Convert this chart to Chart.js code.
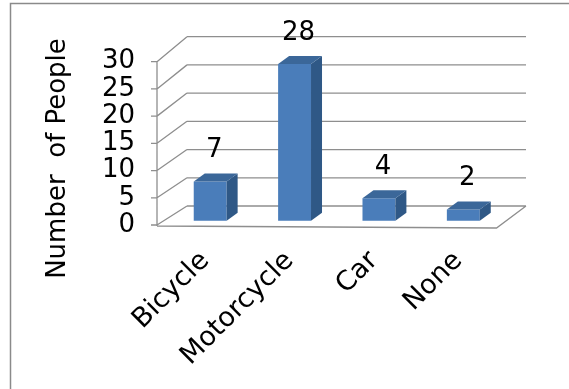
<!DOCTYPE html>
<html>
<head>
<meta charset="utf-8">
<script src="https://cdn.jsdelivr.net/npm/chart.js@4/dist/chart.umd.min.js"></script>
<style>
  html, body { margin: 0; padding: 0; background: #fff; }
</style>
</head>
<body>
<canvas id="grafico" width="569" height="389"></canvas>
<script>
// Dados do gráfico
const categories = ["Bicycle", "Motorcycle", "Car", "None"];
const people = [7, 28, 4, 2];
const yTicks = [0, 5, 10, 15, 20, 25, 30];
const yTitle = "Number  of People";

const FONT = "'DejaVu Sans', Verdana, sans-serif";
const GRID = "#8e8e8e";

// profundidade das barras 3D
const BAR_DX = 11;
const BAR_DY = -8;

function backY(yScale, v) {
  // parede do fundo: um pouco mais alta que o eixo da frente
  const base = yScale.getPixelForValue(0);
  return base - 19 - (base - yScale.getPixelForValue(v)) * 1.037;
}

const wallPlugin = {
  id: "wall",
  beforeDraw(chart) {
    const ctx = chart.ctx;
    ctx.save();
    ctx.strokeStyle = "#8a8a8a";
    ctx.lineWidth = 1.5;
    ctx.strokeRect(10.5, 3.5, 640, 440);
    ctx.restore();
  },
  beforeDatasetsDraw(chart) {
    const ctx = chart.ctx;
    const y = chart.scales.y;
    const area = chart.chartArea;
    const frontX = area.left - 11;
    const backL = frontX + 30;
    const backR = area.right + 20.5;
    const floorR = area.right - 9;
    ctx.save();
    ctx.strokeStyle = GRID;
    ctx.lineWidth = 1.3;
    ctx.beginPath();
    yTicks.forEach((v) => {
      const fy = y.getPixelForValue(v);
      const by = backY(y, v);
      ctx.moveTo(backL, by);
      ctx.lineTo(backR, by);
      ctx.moveTo(frontX, fy);
      ctx.lineTo(backL, by);
      // marca do eixo
      ctx.moveTo(frontX - 6, fy);
      ctx.lineTo(frontX, fy);
    });
    // eixo da frente
    ctx.moveTo(frontX, y.getPixelForValue(30));
    ctx.lineTo(frontX, y.getPixelForValue(0) + 1);
    // chão
    const y0 = y.getPixelForValue(0);
    ctx.moveTo(frontX, y0 + 1);
    ctx.lineTo(floorR, y0 + 3);
    ctx.lineTo(backR, backY(y, 0));
    ctx.stroke();
    ctx.restore();
  },
  afterDatasetsDraw(chart) {
    const ctx = chart.ctx;
    const meta = chart.getDatasetMeta(0);
    ctx.save();
    meta.data.forEach((bar, i) => {
      const l = bar.x - bar.width / 2;
      const r = bar.x + bar.width / 2;
      const t = bar.y;
      const b = bar.base;
      // lado
      ctx.fillStyle = "#2f5886";
      ctx.beginPath();
      ctx.moveTo(r, t);
      ctx.lineTo(r + BAR_DX, t + BAR_DY);
      ctx.lineTo(r + BAR_DX, b + BAR_DY);
      ctx.lineTo(r, b);
      ctx.closePath();
      ctx.fill();
      // topo
      ctx.fillStyle = "#3b6799";
      ctx.beginPath();
      ctx.moveTo(l, t);
      ctx.lineTo(l + BAR_DX, t + BAR_DY);
      ctx.lineTo(r + BAR_DX, t + BAR_DY);
      ctx.lineTo(r, t);
      ctx.closePath();
      ctx.fill();
      // rótulo de valor
      ctx.fillStyle = "#000";
      ctx.font = "26px " + FONT;
      ctx.textAlign = "center";
      ctx.textBaseline = "alphabetic";
      ctx.fillText(String(people[i]), bar.x + 4, t - 24);
    });
    // título do eixo Y
    ctx.translate(65, 158.5);
    ctx.rotate(-Math.PI / 2);
    ctx.fillStyle = "#000";
    ctx.font = "26px " + FONT;
    ctx.textAlign = "center";
    ctx.textBaseline = "alphabetic";
    ctx.fillText(yTitle, 0, 0);
    ctx.restore();
  },
};

new Chart(document.getElementById("grafico"), {
  type: "bar",
  data: {
    labels: categories,
    datasets: [
      {
        data: people,
        backgroundColor: "#4a7dba",
        borderWidth: 0,
        barPercentage: 0.78,
        categoryPercentage: 0.5,
        yAxisID: "yBar",
        clip: false,
      },
    ],
  },
  options: {
    responsive: false,
    animation: false,
    devicePixelRatio: 1,
    layout: { padding: { left: 0, top: 61.7, right: 63.5, bottom: 0 } },
    plugins: { legend: { display: false }, tooltip: { enabled: false } },
    scales: {
      x: {
        grid: { display: false, drawTicks: false },
        border: { display: false },
        ticks: {
          autoSkip: false,
          maxRotation: 45,
          minRotation: 45,
          padding: 20,
          labelOffset: -5,
          color: "#000",
          font: { family: FONT, size: 27 },
        },
        afterFit: (s) => { s.height = 164; },
      },
      y: {
        position: "left",
        min: 0,
        max: 30,
        afterBuildTicks: (s) => { s.ticks = yTicks.map((v) => ({ value: v })); },
        grid: { display: false, drawTicks: false },
        border: { display: false },
        ticks: {
          autoSkip: false,
          padding: 33,
          color: "#000",
          font: { family: FONT, size: 26 },
        },
        afterFit: (s) => { s.width = 168; },
      },
      yBar: { display: false, min: -0.77, max: 28.39 },
    },
  },
  plugins: [wallPlugin],
});
</script>
</body>
</html>
